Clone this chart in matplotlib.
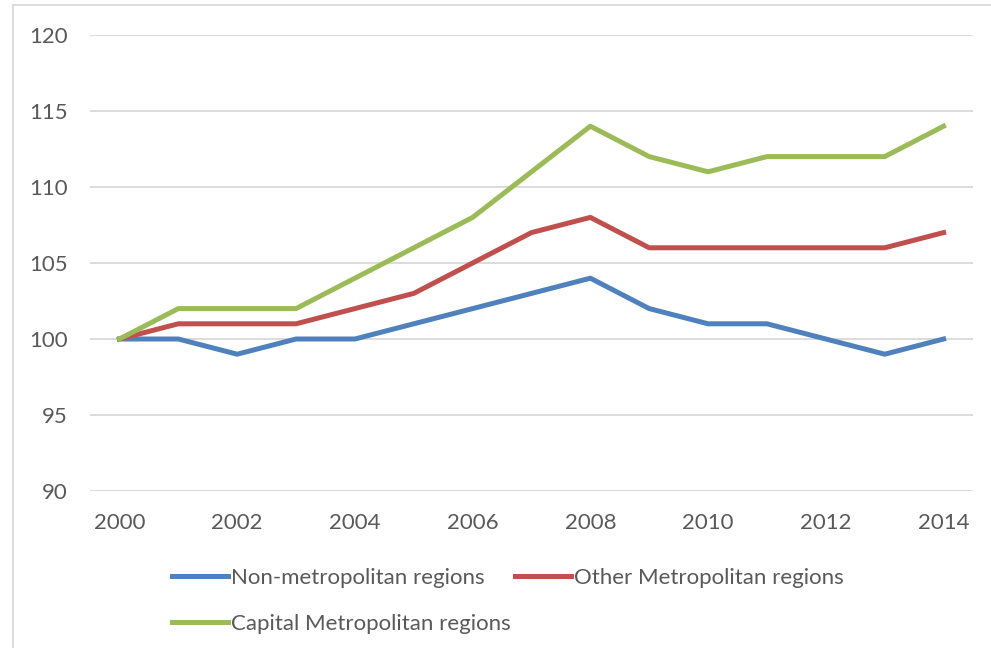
import matplotlib.pyplot as plt
from matplotlib.lines import Line2D

# index values, 2000 = 100
years = list(range(2000, 2015))
non_metro = [100, 100, 99, 100, 100, 101, 102, 103, 104, 102, 101, 101, 100, 99, 100]
other_metro = [100, 101, 101, 101, 102, 103, 105, 107, 108, 106, 106, 106, 106, 106, 107]
capital_metro = [100, 102, 102, 102, 104, 106, 108, 111, 114, 112, 111, 112, 112, 112, 114]

y_ticks = [90, 95, 100, 105, 110, 115, 120]
x_labels = [str(y) for y in years[::2]]

plt.rcParams['font.family'] = ['Lato', 'DejaVu Sans']
txt = '#595959'

fig = plt.figure(figsize=(9.91, 6.48), dpi=100)
ax = fig.add_axes([90 / 991, 1 - 491 / 648, (973 - 90) / 991, (491 - 35) / 648])

pos = list(range(len(years)))
l1, = ax.plot(pos, non_metro, color='#4F81BD', lw=3.6, label='Non-metropolitan regions')
l2, = ax.plot(pos, other_metro, color='#C0504D', lw=3.6, label='Other Metropolitan regions')
l3, = ax.plot(pos, capital_metro, color='#9BBB59', lw=3.6, label='Capital Metropolitan regions')

ax.set_xlim(-0.5, len(years) - 0.5)
ax.set_ylim(90, 120)
ax.set_yticks(y_ticks)
ax.set_xticks(pos[::2])
ax.set_xticklabels(x_labels)
ax.grid(axis='y', color='#D9D9D9', lw=1.3)
ax.set_axisbelow(True)
for s in ax.spines.values():
    s.set_visible(False)
ax.tick_params(length=0, labelsize=16, colors=txt)
ax.tick_params(axis='y', pad=16)
ax.tick_params(axis='x', pad=16)

leg = fig.legend([l1, l3, l2], [l1.get_label(), l3.get_label(), l2.get_label()],
                 ncol=2, loc='upper left', bbox_to_anchor=(152 / 991, 1 - 548 / 648),
                 frameon=False, fontsize=16, handlelength=2.5, handletextpad=0.15,
                 columnspacing=0.2, labelspacing=1.15, labelcolor=txt)

# light frame around the chart (top and left edges visible)
fig.add_artist(Line2D([13 / 991, 1], [1 - 5 / 648, 1 - 5 / 648], color='#D9D9D9', lw=1.3))
fig.add_artist(Line2D([13 / 991, 13 / 991], [0, 1 - 5 / 648], color='#D9D9D9', lw=1.3))

fig.savefig('out.png', dpi=100)
